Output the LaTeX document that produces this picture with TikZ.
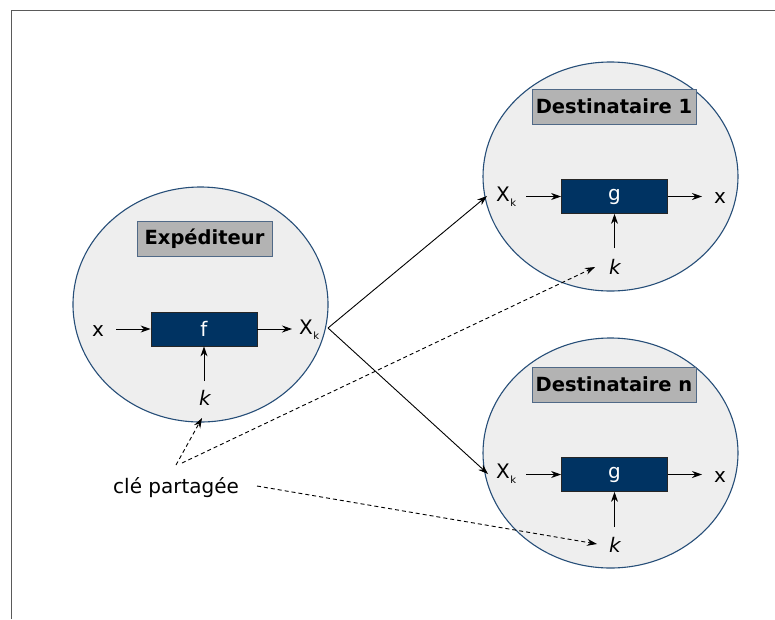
\documentclass[tikz,border=0pt]{standalone}
\usepackage{fontspec}
\setmainfont{DejaVu Sans}
\usetikzlibrary{arrows.meta,shapes.geometric}
\definecolor{boxfill}{RGB}{0,51,98}
\definecolor{ellfill}{RGB}{238,238,238}
\definecolor{elldraw}{RGB}{38,78,120}
\definecolor{labfill}{RGB}{179,179,179}
\definecolor{labdraw}{RGB}{80,105,135}
\definecolor{framec}{RGB}{90,90,90}
\newcommand{\Xsub}{X\kern0.5pt\raisebox{-5pt}{\fontsize{10}{10}\selectfont k}}
\begin{document}
\begin{tikzpicture}[x=1pt,y=-1pt,
  party/.style={ellipse, draw=elldraw, fill=ellfill, line width=1.1pt, inner sep=0},
  role/.style={draw=labdraw, fill=labfill, line width=0.8pt, inner sep=0,
    minimum height=35pt, font=\bfseries\fontsize{19.5}{22}\selectfont},
  func/.style={draw=black!85, fill=boxfill, text=white, line width=0.8pt, inner sep=0,
    minimum width=106pt, minimum height=34pt, font=\fontsize{20}{22}\selectfont},
  txt/.style={inner sep=0, font=\fontsize{20}{22}\selectfont},
  arr/.style={-{Stealth[length=10pt,width=7pt]}, line width=0.9pt},
  darr/.style={-{Stealth[length=10pt,width=7pt]}, line width=0.9pt, dash pattern=on 4pt off 3pt}]
\useasboundingbox (0,0) rectangle (775,619);
% frame
\draw[framec, line width=1pt] (11,619) -- (11,10) -- (775,10);
% parties
\node[party, minimum width=255pt, minimum height=235pt] (snd) at (200.5,304.5) {};
\node[party, minimum width=255pt, minimum height=229pt] (d1) at (610.5,176.5) {};
\node[party, minimum width=255pt, minimum height=230pt] (dn) at (610.5,453) {};
% role labels
\node[role, minimum width=135pt] (lsnd) at (204.5,238.5) {Expéditeur};
\node[role, minimum width=164pt] (ld1) at (614,106.5) {Destinataire 1};
\node[role, minimum width=164pt] (ldn) at (614,384.5) {Destinataire n};
% function boxes
\node[func] (f) at (204,329) {f};
\node[func] (g1) at (614.5,196.5) {g};
\node[func] (gn) at (614.5,474.5) {g};
% sender texts
\node[txt, anchor=base west] (sx) at (92,336) {x};
\node[txt, anchor=base west] (sxk) at (299,334) {\Xsub};
\node[txt, anchor=base] (sk) at (205,405) {\itshape k};
% dest 1 texts
\node[txt, anchor=base west] (d1xk) at (496,201) {\Xsub};
\node[txt, anchor=base west] (d1x) at (714,203) {x};
\node[txt, anchor=base] (d1k) at (615,274) {\itshape k};
% dest n texts
\node[txt, anchor=base west] (dnxk) at (496,478) {\Xsub};
\node[txt, anchor=base west] (dnx) at (714,482) {x};
\node[txt, anchor=base] (dnk) at (615,552) {\itshape k};
% shared key
\node[txt, anchor=base west] (cle) at (113,493) {clé partagée};
% inner arrows
\coordinate (sxa) at (116,329);
\coordinate (sxb) at (292,329);
\coordinate (ska) at (204,381);
\draw[arr] (sxa) -- (f.west);
\draw[arr] (f.east) -- (sxb);
\draw[arr] (ska) -- (f.south);
\coordinate (d1a) at (526,196.5);
\coordinate (d1b) at (702,196.5);
\coordinate (d1c) at (614.5,248);
\draw[arr] (d1a) -- (g1.west);
\draw[arr] (g1.east) -- (d1b);
\draw[arr] (d1c) -- (g1.south);
\coordinate (dna) at (526,474.5);
\coordinate (dnb) at (702,474.5);
\coordinate (dnc) at (614.5,527);
\draw[arr] (dna) -- (gn.west);
\draw[arr] (gn.east) -- (dnb);
\draw[arr] (dnc) -- (gn.south);
% transmission arrows
\coordinate (xkout) at (328,328);
\coordinate (t1) at (487,196);
\coordinate (tn) at (488,474);
\draw[arr] (xkout) -- (t1);
\draw[arr] (xkout) -- (tn);
% shared key arrows
\coordinate (c1) at (176,465);
\coordinate (c2) at (182,463);
\coordinate (c3) at (257,486);
\coordinate (e1) at (202,418);
\coordinate (e2) at (595,267);
\coordinate (e3) at (597,544);
\draw[darr] (c1) -- (e1);
\draw[darr] (c2) -- (e2);
\draw[darr] (c3) -- (e3);
\end{tikzpicture}
\end{document}
